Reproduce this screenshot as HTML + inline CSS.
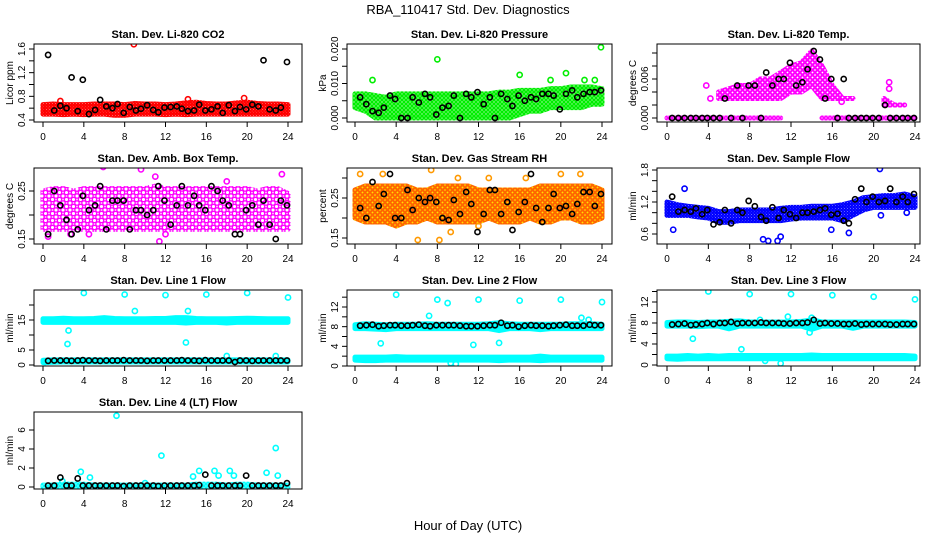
<!DOCTYPE html>
<html><head><meta charset="utf-8"><style>
html,body{margin:0;padding:0;background:#fff;}
svg{display:block;font-family:"Liberation Sans",sans-serif;}
</style></head><body>
<svg id="chart" width="936" height="540" viewBox="0 0 936 540" xmlns="http://www.w3.org/2000/svg">
<rect width="936" height="540" fill="#fff"/>
<defs id="defs"></defs>
<text x="468" y="14" text-anchor="middle" font-size="13">RBA_110417  Std. Dev. Diagnostics</text>
<text x="468" y="530" text-anchor="middle" font-size="13">Hour of Day (UTC)</text>
</svg>
<script>
// ---- data ----
const hours = [0,1,2,3,4,5,6,7,8,9,10,11,12,13,14,15,16,17,18,19,20,21,22,23,24];
const blackX = [0.5,1.1,1.7,2.3,2.8,3.4,3.9,4.5,5.1,5.6,6.2,6.8,7.3,7.9,8.5,9.1,9.6,10.2,10.8,11.3,11.9,12.5,13.1,13.6,14.2,14.8,15.3,15.9,16.5,17.1,17.6,18.2,18.8,19.3,19.9,20.5,21.1,21.6,22.2,22.8,23.3,23.9];
const xTicks = [0,4,8,12,16,20,24];

// CO2
const co2BandLo = [0.50,0.50,0.49,0.50,0.49,0.50,0.50,0.48,0.48,0.50,0.50,0.50,0.49,0.50,0.49,0.50,0.50,0.50,0.50,0.50,0.50,0.50,0.50,0.50,0.50];
const co2BandHi = [0.66,0.67,0.66,0.66,0.66,0.67,0.67,0.67,0.66,0.68,0.67,0.67,0.66,0.67,0.69,0.70,0.68,0.67,0.67,0.69,0.70,0.68,0.67,0.67,0.66];
const co2BlackY = [1.50,0.56,0.64,0.60,1.12,0.55,1.08,0.50,0.57,0.74,0.63,0.60,0.67,0.52,0.62,0.56,0.59,0.65,0.57,0.53,0.61,0.62,0.63,0.59,0.55,0.56,0.66,0.56,0.58,0.63,0.52,0.65,0.55,0.62,0.58,0.66,0.63,1.41,0.58,0.56,0.61,1.38];
const co2OutX = [8.9,1.7,14.2,19.7];
const co2OutY = [1.68,0.72,0.75,0.77];

// Pressure
const prBandLo = [0.003,0.002,0.000,0.000,0.000,0.000,0.000,0.000,0.000,0.000,0.000,0.000,0.000,0.000,0.000,0.000,0.001,0.002,0.002,0.003,0.003,0.003,0.003,0.004,0.004];
const prBandHi = [0.007,0.007,0.0065,0.006,0.007,0.007,0.007,0.007,0.007,0.007,0.007,0.007,0.007,0.007,0.0075,0.0075,0.008,0.008,0.008,0.0085,0.0085,0.009,0.009,0.009,0.0085];
const prBlackY = [0.006,0.004,0.002,0.0015,0.003,0.0065,0.0055,0,0,0.006,0.0045,0.007,0.006,0.001,0.003,0.0035,0.0065,0,0.007,0.006,0.0075,0.004,0.006,0,0.007,0.0055,0.0035,0.0065,0.005,0.006,0.0055,0.007,0.007,0.0065,0.0025,0.007,0.008,0.006,0.007,0.0075,0.0075,0.008];
const prOutX = [1.7,8.0,16.0,20.5,19.0,23.3,23.9,22.3];
const prOutY = [0.011,0.017,0.0125,0.013,0.011,0.011,0.0205,0.011];

// Li-820 temp
const tpBandLo = [NaN,NaN,NaN,NaN,NaN,0.003,0.003,0.003,0.003,0.003,0.003,0.003,0.004,0.004,0.005,0.003,0.003,0.003,0.003,NaN,NaN,0.002,0.002,0.002,NaN];
const tpBandHi = [NaN,NaN,NaN,NaN,NaN,0.004,0.0045,0.005,0.005,0.006,0.006,0.007,0.008,0.0085,0.0103,0.008,0.005,0.003,0.003,NaN,NaN,0.003,0.002,0.002,NaN];
const tpZero = [0,0,0,0,0,0,0,0,0,0,0,0,NaN,NaN,NaN,0,0,0,0,0,0,0,0,0,0];
const tpBlackY = [0,0,0,0,0,0,0,0,0,0.003,0,0.005,0,0.005,0.005,0,0.007,0.005,0.006,0.006,0.0085,0.005,0.0055,0.0075,0.0103,0.009,0.003,0.006,0,0.006,0,0,0,0,0,0,0.002,0,0,0,0,0];
const tpOutX = [3.8,4.2,21.5,21.5,16.9];
const tpOutY = [0.005,0.003,0.0055,0.0045,0.0025];

// Amb box temp
const amBandLo = [0.17,0.17,0.17,0.17,0.17,0.17,0.17,0.17,0.17,0.17,0.17,0.17,0.17,0.17,0.17,0.17,0.17,0.17,0.17,0.17,0.17,0.17,0.17,0.17,0.17];
const amBandHi = [0.25,0.255,0.255,0.25,0.255,0.255,0.255,0.255,0.255,0.255,0.255,0.26,0.255,0.255,0.255,0.255,0.255,0.255,0.255,0.255,0.255,0.25,0.255,0.255,0.245];
const amBlackY = [0.16,0.25,0.22,0.19,0.16,0.17,0.24,0.21,0.22,0.26,0.17,0.23,0.23,0.23,0.17,0.21,0.21,0.20,0.21,0.26,0.23,0.18,0.22,0.26,0.22,0.24,0.22,0.21,0.26,0.25,0.23,0.22,0.16,0.16,0.21,0.22,0.18,0.23,0.18,0.15,0.23,0.22];
const amOutX = [5.9,9.6,11.0,23.4,11.4,0.5,4.5,12.0,2.7,18.0];
const amOutY = [0.30,0.295,0.28,0.285,0.145,0.155,0.16,0.16,0.16,0.27];

// Gas stream RH
const rhBandLo = [0.20,0.19,0.19,0.19,0.18,0.19,0.19,0.20,0.19,0.19,0.19,0.19,0.19,0.20,0.19,0.19,0.19,0.20,0.19,0.19,0.20,0.20,0.19,0.19,0.20];
const rhBandHi = [0.27,0.28,0.28,0.28,0.28,0.28,0.27,0.27,0.28,0.28,0.28,0.28,0.27,0.27,0.27,0.27,0.27,0.27,0.28,0.28,0.28,0.28,0.28,0.28,0.27];
const rhBlackY = [0.225,0.20,0.29,0.23,0.26,0.31,0.20,0.20,0.27,0.22,0.25,0.24,0.25,0.24,0.20,0.195,0.245,0.21,0.265,0.235,0.165,0.21,0.27,0.27,0.21,0.24,0.17,0.215,0.24,0.31,0.225,0.19,0.225,0.26,0.225,0.23,0.21,0.235,0.265,0.265,0.23,0.26];
const rhOutX = [7.4,6.1,8.2,0.5,2.7,10.0,13.0,16.6,20.0,21.9,9.3,12.0];
const rhOutY = [0.32,0.145,0.145,0.31,0.31,0.30,0.30,0.30,0.31,0.31,0.165,0.18];

// Sample flow
const sfBandLo = [0.95,0.95,0.95,0.92,0.90,0.82,0.82,0.85,0.85,0.85,0.85,0.85,0.88,0.90,0.90,0.90,0.90,0.85,0.95,1.05,1.10,1.10,1.10,1.10,1.10];
const sfBandHi = [1.20,1.15,1.12,1.10,1.08,1.02,1.02,1.05,1.05,1.05,1.05,1.08,1.10,1.10,1.12,1.12,1.12,1.15,1.20,1.28,1.30,1.32,1.32,1.35,1.30];
const sfBlackY = [1.30,1.02,1.05,1.02,1.08,0.97,1.05,0.78,0.82,1.05,0.80,1.05,1.00,1.22,1.12,0.92,0.85,1.10,0.90,1.05,0.97,0.90,1.00,1.00,1.02,1.05,1.08,0.96,0.98,0.85,0.80,1.25,1.45,1.20,1.30,1.20,1.22,1.45,1.20,1.30,1.20,1.35];
const sfOutX = [1.7,0.6,9.3,9.8,10.7,11.0,17.6,20.6,20.7,23.2,15.9];
const sfOutY = [1.45,0.68,0.50,0.47,0.47,0.55,0.62,1.82,0.95,1.00,0.68];

// Line 1
const l1BandLo = [14.2,14.2,14.2,14.2,14.2,14.2,14.2,14.2,14.2,14.2,14.2,14.2,14.2,14.2,14.0,14.2,14.2,14.2,14.0,14.2,14.2,14.2,14.2,14.2,14.2];
const l1BandHi = [15.4,15.4,15.6,15.4,15.4,15.5,15.8,15.5,15.4,15.4,15.4,15.5,15.5,15.8,15.8,15.5,15.4,15.4,15.4,15.5,15.6,15.5,15.4,15.4,15.4];
const l1LowLo = [0.8,0.9,1.0,1.0,1.0,1.0,1.0,1.0,1.0,1.0,1.0,1.0,1.0,1.0,1.0,1.0,1.0,1.0,1.0,1.0,1.0,1.0,1.0,1.0,1.0];
const l1LowHi = [1.6,1.7,1.7,1.7,1.7,1.7,1.7,1.7,1.7,1.7,1.7,1.7,1.7,1.7,1.7,1.7,1.7,1.7,1.7,1.7,1.7,1.7,1.7,1.7,1.7];
const l1BlackY = [1.4,1.5,1.5,1.5,1.4,1.5,1.6,1.5,1.5,1.4,1.5,1.5,1.5,1.6,1.5,1.5,1.5,1.4,1.5,1.5,1.5,1.5,1.5,1.6,1.5,1.5,1.4,1.6,1.5,1.5,1.5,1.5,1.0,1.5,1.5,1.4,1.5,1.5,1.5,1.5,1.5,1.5];
const l1OutX = [4,8,12,16,20,24,9,14.2,2.5,2.4,14,18,22.8,0.2];
const l1OutY = [24,23.5,23.3,23.5,24,22.5,18,18,11.5,7,7.5,3,3,1];

// Line 2
const l2BandLo = [7.6,7.6,7.5,7.4,7.6,7.6,7.6,7.6,7.6,7.6,7.6,7.6,7.6,7.6,7.2,7.6,7.6,7.6,7.4,7.6,7.6,7.6,7.6,7.6,7.6];
const l2BandHi = [8.4,8.6,8.5,8.4,8.5,8.5,8.5,8.6,8.5,8.5,8.5,8.5,8.5,8.6,8.8,8.6,8.5,8.5,8.5,8.5,8.5,8.6,8.6,8.6,8.5];
const l2LowLo = [1.2,1.1,1.1,1.2,1.2,1.2,1.2,1.2,1.2,1.2,1.2,1.2,1.2,1.2,1.1,1.2,1.2,1.2,1.1,1.2,1.2,1.2,1.2,1.2,1.2];
const l2LowHi = [1.8,1.8,1.8,1.8,1.9,1.8,1.8,1.8,1.8,1.8,1.8,1.8,1.8,1.8,1.8,1.8,1.8,1.8,2.0,1.8,1.8,1.8,1.8,1.8,1.8];
const l2BlackY = [8.2,8.3,8.4,8.1,8.2,8.3,8.3,8.2,8.2,8.3,8.4,8.2,8.1,8.3,8.3,8.3,8.3,8.2,8.1,8.1,8.1,8.2,8.3,8.3,8.8,8.2,8.3,8.0,8.2,8.3,8.2,8.2,8.1,8.2,8.3,8.4,8.2,8.2,8.2,8.4,8.3,8.3];
const l2OutX = [4,8,9,12,16,20,24,2.5,11.5,14,7.2,22,22.7,9.3,9.8];
const l2OutY = [14.5,13.5,12.8,13.5,13.3,13.5,13,4.6,4.3,4.7,10.2,9.8,9.4,0.6,0.4];

// Line 3
const l3BandLo = [7.4,7.4,7.4,7.3,7.4,7.4,6.9,7.4,7.4,7.4,7.4,7.4,7.4,7.4,6.8,7.4,7.4,7.4,7.0,7.4,7.4,7.4,7.4,7.4,7.4];
const l3BandHi = [8.1,8.2,8.2,8.1,8.2,8.2,8.3,8.4,8.2,8.2,8.2,8.2,8.2,8.3,8.6,8.2,8.2,8.2,8.2,8.2,8.2,8.2,8.2,8.2,8.1];
const l3LowLo = [1.2,1.1,1.2,1.2,1.2,1.2,1.2,1.2,1.2,1.2,1.2,1.2,1.2,1.2,1.2,1.2,1.2,1.2,1.2,1.2,1.2,1.2,1.2,1.2,1.2];
const l3LowHi = [1.7,1.7,1.8,1.7,1.8,1.7,1.8,1.8,1.8,1.8,1.8,1.8,1.8,1.8,1.9,1.8,1.8,1.8,1.8,1.8,1.8,1.8,1.8,1.8,1.7];
const l3BlackY = [7.7,7.8,7.9,7.6,7.7,7.8,8.0,7.8,8.0,8.0,8.2,7.9,8.0,8.0,8.0,8.1,8.0,8.0,8.0,7.9,7.9,8.0,8.0,8.1,8.6,7.9,8.0,7.9,7.9,7.8,7.8,7.9,7.7,7.8,7.8,7.8,7.8,7.7,7.7,7.8,7.8,7.8];
const l3OutX = [4,8,12,16,20,24,2.5,7.2,13.8,14,11,9.5,9,11.7];
const l3OutY = [14,13.5,13.5,13.3,13,12.5,5,3,6.2,9,0.3,0.8,8.6,9.2];

// Line 4
const l4BandLo = [0,0,0,0,0,0,0,0,0,0,0,0,0,0,0,0,0,0,0,0,0,0,0,0,0];
const l4BandHi = [0.2,0.2,0.3,0.3,0.3,0.2,0.2,0.2,0.2,0.2,0.2,0.2,0.2,0.2,0.2,0.3,0.3,0.3,0.2,0.3,0.3,0.2,0.2,0.2,0.2];
const l4BlackY = [0.15,0.15,1.0,0.15,0.15,0.9,0.15,0.15,0.15,0.15,0.15,0.15,0.15,0.1,0.15,0.15,0.15,0.15,0.15,0.1,0.15,0.15,0.15,0.15,0.15,0.15,0.2,1.3,0.15,0.15,0.15,0.15,0.15,0.15,1.2,0.15,0.15,0.15,0.15,0.15,0.15,0.4];
const l4OutX = [7.2,11.6,22.8,3.7,4.6,14.7,15.3,16.8,17.2,18.3,18.7,21.9,23.0,1.9,10];
const l4OutY = [7.5,3.3,4.1,1.6,1.0,1.1,1.7,1.7,1.2,1.7,1.2,1.5,1.2,0.6,0.4];

// ---- rendering ----
const NS = 'http://www.w3.org/2000/svg';
const svg = document.getElementById('chart');
const defs = document.getElementById('defs');
function mk(tag, attrs, parent){
  const e = document.createElementNS(NS, tag);
  for (const k in attrs) e.setAttribute(k, attrs[k]);
  (parent||svg).appendChild(e);
  return e;
}
let patId = 0;
function pattern(color, size, bg){
  const id = 'pat' + (patId++);
  const p = mk('pattern', {id:id, width:size, height:size, patternUnits:'userSpaceOnUse'}, defs);
  if (bg) mk('rect', {x:0, y:0, width:size, height:size, fill:bg}, p);
  mk('circle', {cx:size/2, cy:size/2, r:Math.min(2.2, size/2 - 0.3), fill:'none', stroke:color, 'stroke-width':'1.3'}, p);
  mk('circle', {cx:0, cy:0, r:Math.min(2.2, size/2 - 0.3), fill:'none', stroke:color, 'stroke-width':'1.3'}, p);
  mk('circle', {cx:size, cy:size, r:Math.min(2.2, size/2 - 0.3), fill:'none', stroke:color, 'stroke-width':'1.3'}, p);
  mk('circle', {cx:0, cy:size, r:Math.min(2.2, size/2 - 0.3), fill:'none', stroke:color, 'stroke-width':'1.3'}, p);
  mk('circle', {cx:size, cy:0, r:Math.min(2.2, size/2 - 0.3), fill:'none', stroke:color, 'stroke-width':'1.3'}, p);
  return 'url(#' + id + ')';
}
const COLS = [{l:34,r:302,x0:43,x24:288},{l:347,r:612,x0:355,x24:602},{l:657,r:920,x0:667,x24:915}];
const ROWS = [{t:44,b:122},{t:168,b:244},{t:290,b:366},{t:412,b:489}];
let clipId = 0;

function panel(p){
  const C = COLS[p.col], R = ROWS[p.row];
  const xs = h => C.x0 + (C.x24 - C.x0) * h / 24;
  const ys = v => p.ya[1] + (p.yb[1] - p.ya[1]) * (v - p.ya[0]) / (p.yb[0] - p.ya[0]);
  const g = mk('g', {});
  
  
  const title = mk('text', {x:(C.l + C.r)/2, y:R.t - 6, 'text-anchor':'middle', 'font-size':'11', 'font-weight':'bold'}, g);
  title.textContent = p.title;
  
  
  const cid = 'clip' + (clipId++);
  const cp = mk('clipPath', {id:cid}, g);
  mk('rect', {x:C.l, y:R.t, width:C.r - C.l, height:R.b - R.t}, cp);
  const plot = mk('g', {'clip-path':'url(#' + cid + ')'}, g);
  
  
  // bands
  (p.bands||[]).forEach((b, bi) => {
    const paint = b.pat ? pattern(b.color, b.pat, b.bg) : b.color;
    let seg = [];
    const flush = () => {
      if (seg.length) {
        const pts = seg.map(i => xs(hours[i]) + ',' + ys(b.hi[i])).concat(seg.slice().reverse().map(i => xs(hours[i]) + ',' + ys(b.lo[i])));
        const poly = mk('polygon', {points:pts.join(' '), fill:paint, stroke:paint, 'stroke-width':'5', 'stroke-linejoin':'round'}, plot);
        
        
      }
      seg = [];
    };
    hours.forEach((h, i) => { if (isNaN(b.lo[i]) || isNaN(b.hi[i])) flush(); else seg.push(i); });
    flush();
  });
  // scatter series
  (p.series||[]).forEach(s => {
    const n = Math.min(s.x.length, s.y.length);
    for (let i = 0; i < n; i++) {
      const c = mk('circle', {cx:xs(s.x[i]), cy:ys(s.y[i]), r:'2.6', fill:'none', stroke:s.color, 'stroke-width':'1.6'}, plot);
      
      
    }
  });
  // box
  const box = mk('rect', {x:C.l, y:R.t, width:C.r - C.l, height:R.b - R.t, fill:'none', stroke:'#000', 'stroke-width':'1'}, g);
  
  
  // x axis
  const xa = mk('g', {}, g);
  
  
  mk('line', {x1:xs(0), x2:xs(24), y1:R.b, y2:R.b, stroke:'#000'}, xa);
  xTicks.forEach(t => {
    mk('line', {x1:xs(t), x2:xs(t), y1:R.b, y2:R.b + 5, stroke:'#000'}, xa);
    const tx = mk('text', {x:xs(t), y:R.b + 18, 'text-anchor':'middle', 'font-size':'10'}, xa);
    tx.textContent = t;
  });
  // y axis
  const ya = mk('g', {}, g);
  
  
  const tk = p.ticks;
  mk('line', {x1:C.l, x2:C.l, y1:ys(tk[0]), y2:ys(tk[tk.length - 1]), stroke:'#000'}, ya);
  tk.forEach(t => mk('line', {x1:C.l - 5, x2:C.l, y1:ys(t), y2:ys(t), stroke:'#000'}, ya));
  p.labels.forEach((t, i) => {
    const yy = ys(t), xx = C.l - 9;
    const tx = mk('text', {x:xx, y:yy, 'text-anchor':'middle', 'font-size':'10', transform:'rotate(-90 ' + xx + ' ' + yy + ')'}, ya);
    tx.textContent = p.labelText[i];
  });
  const yl = (R.t + R.b) / 2, xl = C.l - 21;
  const yt = mk('text', {x:xl, y:yl, 'text-anchor':'middle', 'font-size':'10', transform:'rotate(-90 ' + xl + ' ' + yl + ')'}, g);
  yt.textContent = p.ylab;
  
  
}

const RED='#ff0000', GRN='#00ee00', MAG='#ff00ff', BLK='#000000', ORG='#ff9900', BLU='#0000ff', CYN='#00ffff';

panel({name:'co2', col:0, row:0, title:'Stan. Dev. Li-820 CO2', ylab:'Licor ppm', ya:[0.4,120], yb:[1.6,49],
  ticks:[0.4,0.6,0.8,1.0,1.2,1.4,1.6], labels:[0.4,0.8,1.2,1.6], labelText:['0.4','0.8','1.2','1.6'],
  bands:[{lo:co2BandLo, hi:co2BandHi, color:RED, pat:3}],
  series:[{x:co2OutX, y:co2OutY, color:RED, label:'red'},{x:blackX, y:co2BlackY, color:BLK, label:'black'}]});
panel({name:'pressure', col:1, row:0, title:'Stan. Dev. Li-820 Pressure', ylab:'kPa', ya:[0,118], yb:[0.02,49],
  ticks:[0,0.005,0.01,0.015,0.02], labels:[0,0.01,0.02], labelText:['0.000','0.010','0.020'],
  bands:[{lo:prBandLo, hi:prBandHi, color:GRN, pat:4}],
  series:[{x:prOutX, y:prOutY, color:GRN, label:'green'},{x:blackX, y:prBlackY, color:BLK, label:'black'}]});
panel({name:'li820-temp', col:2, row:0, title:'Stan. Dev. Li-820 Temp.', ylab:'degrees C', ya:[0,118], yb:[0.006,79],
  ticks:[0,0.002,0.004,0.006,0.008,0.01], labels:[0,0.006], labelText:['0.000','0.006'],
  bands:[{lo:tpZero, hi:tpZero, color:MAG, pat:4},{lo:tpBandLo, hi:tpBandHi, color:MAG, pat:5}],
  series:[{x:tpOutX, y:tpOutY, color:MAG, label:'magenta'},{x:blackX, y:tpBlackY, color:BLK, label:'black'}]});
panel({name:'amb-box-temp', col:0, row:1, title:'Stan. Dev. Amb. Box Temp.', ylab:'degrees C', ya:[0.15,239], yb:[0.25,191],
  ticks:[0.15,0.20,0.25], labels:[0.15,0.25], labelText:['0.15','0.25'],
  bands:[{lo:amBandLo, hi:amBandHi, color:MAG, pat:7}],
  series:[{x:amOutX, y:amOutY, color:MAG, label:'magenta'},{x:blackX, y:amBlackY, color:BLK, label:'black'}]});
panel({name:'gas-stream-rh', col:1, row:1, title:'Stan. Dev. Gas Stream RH', ylab:'percent', ya:[0.15,238], yb:[0.25,198],
  ticks:[0.15,0.20,0.25,0.30], labels:[0.15,0.25], labelText:['0.15','0.25'],
  bands:[{lo:rhBandLo, hi:rhBandHi, color:'#ff6600', pat:5, bg:'#ffe000'}],
  series:[{x:rhOutX, y:rhOutY, color:ORG, label:'orange'},{x:blackX, y:rhBlackY, color:BLK, label:'black'}]});
panel({name:'sample-flow', col:2, row:1, title:'Stan. Dev. Sample Flow', ylab:'ml/min', ya:[0.6,234], yb:[1.8,170],
  ticks:[0.6,0.8,1.0,1.2,1.4,1.6,1.8], labels:[0.6,1.2,1.8], labelText:['0.6','1.2','1.8'],
  bands:[{lo:sfBandLo, hi:sfBandHi, color:BLU, pat:3}],
  series:[{x:sfOutX, y:sfOutY, color:BLU, label:'blue'},{x:blackX, y:sfBlackY, color:BLK, label:'black'}]});
panel({name:'line1-flow', col:0, row:2, title:'Stan. Dev. Line 1 Flow', ylab:'ml/min', ya:[0,365], yb:[15,320],
  ticks:[0,5,10,15,20], labels:[0,5,15], labelText:['0','5','15'],
  bands:[{lo:l1BandLo, hi:l1BandHi, color:CYN},{lo:l1LowLo, hi:l1LowHi, color:CYN}],
  series:[{x:l1OutX, y:l1OutY, color:CYN, label:'cyan'},{x:blackX, y:l1BlackY, color:BLK, label:'black'}]});
panel({name:'line2-flow', col:1, row:2, title:'Stan. Dev. Line 2 Flow', ylab:'ml/min', ya:[0,366], yb:[12,307],
  ticks:[0,2,4,6,8,10,12,14], labels:[0,4,8,12], labelText:['0','4','8','12'],
  bands:[{lo:l2BandLo, hi:l2BandHi, color:CYN},{lo:l2LowLo, hi:l2LowHi, color:CYN}],
  series:[{x:l2OutX, y:l2OutY, color:CYN, label:'cyan'},{x:blackX, y:l2BlackY, color:BLK, label:'black'}]});
panel({name:'line3-flow', col:2, row:2, title:'Stan. Dev. Line 3 Flow', ylab:'ml/min', ya:[0,365], yb:[12,302],
  ticks:[0,2,4,6,8,10,12,14], labels:[0,4,8,12], labelText:['0','4','8','12'],
  bands:[{lo:l3BandLo, hi:l3BandHi, color:CYN},{lo:l3LowLo, hi:l3LowHi, color:CYN}],
  series:[{x:l3OutX, y:l3OutY, color:CYN, label:'cyan'},{x:blackX, y:l3BlackY, color:BLK, label:'black'}]});
panel({name:'line4-flow', col:0, row:3, title:'Stan. Dev. Line 4 (LT) Flow', ylab:'ml/min', ya:[0,487], yb:[6,430],
  ticks:[0,2,4,6], labels:[0,2,4,6], labelText:['0','2','4','6'],
  bands:[{lo:l4BandLo, hi:l4BandHi, color:CYN, pat:4}],
  series:[{x:l4OutX, y:l4OutY, color:CYN, label:'cyan'},{x:blackX, y:l4BlackY, color:BLK, label:'black'}]});
</script>
</body></html>
